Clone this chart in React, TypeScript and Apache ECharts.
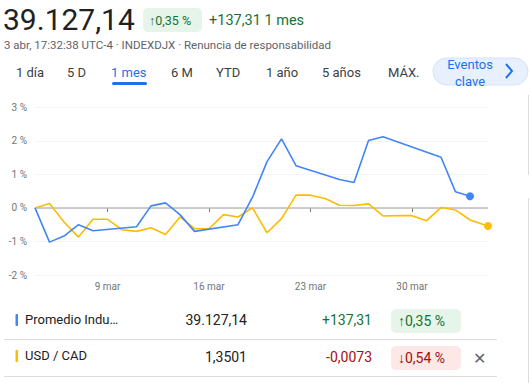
import React, { useEffect, useRef } from "react";
import * as echarts from "echarts";

// Days since 4 mar (trading points of each series)
const djiDays = [0, 1, 2, 3, 4, 7, 8, 9, 10, 11, 14, 15, 16, 17, 18, 21, 22, 23, 24, 28, 29, 30];
const djiPct = [0, -1.02, -0.84, -0.5, -0.68, -0.56, 0.06, 0.15, -0.2, -0.7, -0.5, 0.32, 1.38, 2.06, 1.26, 0.85, 0.76, 2.01, 2.12, 1.51, 0.48, 0.35];

const cadDays = [0, 1, 2, 3, 4, 5, 6, 7, 8, 9, 10, 11, 12, 13, 14, 15, 16, 17, 18, 19, 20, 21, 22, 23, 24, 25, 26, 27, 28, 29, 30, 31.24];
const cadPct = [0, 0.13, -0.42, -0.87, -0.34, -0.34, -0.65, -0.7, -0.59, -0.79, -0.27, -0.62, -0.62, -0.2, -0.27, 0.0, -0.74, -0.32, 0.38, 0.38, 0.28, 0.08, 0.07, 0.12, -0.24, -0.23, -0.23, -0.38, 0.01, -0.06, -0.36, -0.54];

const xTickDays = [5, 12, 19, 26];
const xTickLabels = ["9 mar", "16 mar", "23 mar", "30 mar"];

const yMin = -2;
const yMax = 3;

const tabs = ["1 día", "5 D", "1 mes", "6 M", "YTD", "1 año", "5 años", "MÁX."];
const tabX = [16, 67, 111, 171, 216, 266, 322, 388];

const FONT = "Roboto, 'Noto Sans', sans-serif";

function toSeries(days: number[], vals: number[]) {
  return days.map((d, i) =>
    i === days.length - 1
      ? { value: [d, vals[i]], symbol: "circle", symbolSize: 8 }
      : { value: [d, vals[i]] }
  );
}

export default function App() {
  const ref = useRef<HTMLDivElement>(null);
  useEffect(() => {
    if (!ref.current) return;
    const chart = echarts.init(ref.current, undefined, { renderer: "svg" });

    const t = (x: number, y: number, text: string, size: number, fill: string, extra: any = {}) => ({
      type: "text",
      x,
      y,
      style: { text, fontSize: size, fill, fontFamily: FONT, textVerticalAlign: "middle", ...extra },
    });

    const graphics: any[] = [
      // header
      t(3, 19, "39.127,14", 30, "#202124"),
      { type: "rect", shape: { x: 143, y: 8, width: 59, height: 24, r: 5 }, style: { fill: "#e6f4ea" } },
      t(149, 20, "↑0,35 %", 12.5, "#137333"),
      t(209, 20, "+137,31 1 mes", 14.5, "#137333"),
      t(4, 45, "3 abr, 17:32:38 UTC-4 · INDEXDJX · Renuncia de responsabilidad", 11.5, "#5f6368"),
      // tabs
      ...tabs.map((s, i) => t(tabX[i], 72, s, 13, i === 2 ? "#1a73e8" : "#3c4043")),
      { type: "rect", shape: { x: 112, y: 82, width: 35, height: 3, r: 1.5 }, style: { fill: "#1a73e8" } },
      // eventos clave button
      { type: "rect", shape: { x: 433, y: 58, width: 95, height: 27, r: 13.5 }, style: { fill: "#e8f0fe", stroke: "#d2e3fc", lineWidth: 1 } },
      t(470, 64, "Eventos", 13, "#1a73e8", { textAlign: "center" }),
      t(470, 81, "clave", 13, "#1a73e8", { textAlign: "center" }),
      { type: "polyline", shape: { points: [[506, 64], [512, 71], [506, 78]] }, style: { stroke: "#1a73e8", lineWidth: 2, fill: "none" } },
      // right panel border
      { type: "line", shape: { x1: 528.5, y1: 95, x2: 528.5, y2: 175 }, style: { stroke: "#dadce0", lineWidth: 1 } },
      { type: "line", shape: { x1: 528.5, y1: 198, x2: 528.5, y2: 383 }, style: { stroke: "#dadce0", lineWidth: 1 } },
      // table row 1
      { type: "rect", shape: { x: 15.5, y: 314, width: 2.5, height: 12, r: 1 }, style: { fill: "#4285f4" } },
      t(25, 319, "Promedio Indu…", 13, "#202124"),
      t(247, 320, "39.127,14", 14, "#202124", { textAlign: "right" }),
      t(372, 320, "+137,31", 14, "#137333", { textAlign: "right" }),
      { type: "rect", shape: { x: 391, y: 309, width: 70, height: 24, r: 5 }, style: { fill: "#e6f4ea" } },
      t(398, 321, "↑0,35 %", 14, "#137333"),
      { type: "line", shape: { x1: 4, y1: 339.5, x2: 497, y2: 339.5 }, style: { stroke: "#dadce0", lineWidth: 1 } },
      // table row 2
      { type: "rect", shape: { x: 15.5, y: 350, width: 2.5, height: 12, r: 1 }, style: { fill: "#fbbc04" } },
      t(25, 355, "USD / CAD", 13, "#202124"),
      t(247, 357, "1,3501", 14, "#202124", { textAlign: "right" }),
      t(372, 357, "-0,0073", 14, "#a50e0e", { textAlign: "right" }),
      { type: "rect", shape: { x: 391, y: 346, width: 70, height: 24, r: 5 }, style: { fill: "#fce8e6" } },
      t(398, 358, "↓0,54 %", 14, "#a50e0e"),
      t(479, 358, "✕", 16, "#5f6368", { textAlign: "center" }),
      { type: "line", shape: { x1: 4, y1: 376.5, x2: 497, y2: 376.5 }, style: { stroke: "#dadce0", lineWidth: 1 } },
    ];

    chart.setOption({
      animation: false,
      backgroundColor: "#ffffff",
      textStyle: { fontFamily: FONT },
      grid: { left: 35, right: 42, top: 107.3, bottom: 108, containLabel: false },
      xAxis: {
        type: "value",
        min: 0,
        max: 31.24,
        axisLine: { show: false },
        splitLine: { show: false },
        axisTick: { show: true, customValues: xTickDays, length: 4, lineStyle: { color: "#70757a" } },
        axisLabel: {
          customValues: xTickDays,
          formatter: (v: number) => xTickLabels[xTickDays.indexOf(Math.round(v))] ?? "",
          color: "#70757a",
          fontSize: 10,
          margin: 6,
          fontFamily: FONT,
        },
      },
      yAxis: {
        type: "value",
        min: yMin,
        max: yMax,
        interval: 1,
        axisLine: { show: false },
        axisTick: { show: false },
        splitLine: { lineStyle: { color: "#f1f3f4", width: 1 } },
        axisLabel: {
          formatter: (v: number) => `${v} %`,
          color: "#70757a",
          fontSize: 10,
          margin: 8,
          fontFamily: FONT,
        },
      },
      series: [
        {
          type: "line",
          data: toSeries(cadDays, cadPct),
          symbol: "none",
          showSymbol: true,
          lineStyle: { color: "#fbbc04", width: 1.6 },
          itemStyle: { color: "#fbbc04" },
          z: 3,
          markLine: {
            silent: true,
            symbol: "none",
            label: { show: false },
            lineStyle: { color: "#bdbdbd", width: 1.5, type: "solid" },
            data: [{ yAxis: 0 }],
            z: 1,
          },
        },
        {
          type: "line",
          data: toSeries(djiDays, djiPct),
          symbol: "none",
          showSymbol: true,
          lineStyle: { color: "#4285f4", width: 1.6 },
          itemStyle: { color: "#4285f4" },
          z: 4,
        },
      ],
      graphic: graphics,
    });
    return () => chart.dispose();
  }, []);
  return (
    <div
      ref={ref}
      style={{ position: "absolute", left: 0, top: 0, width: 530, height: 383, background: "#fff" }}
    />
  );
}
